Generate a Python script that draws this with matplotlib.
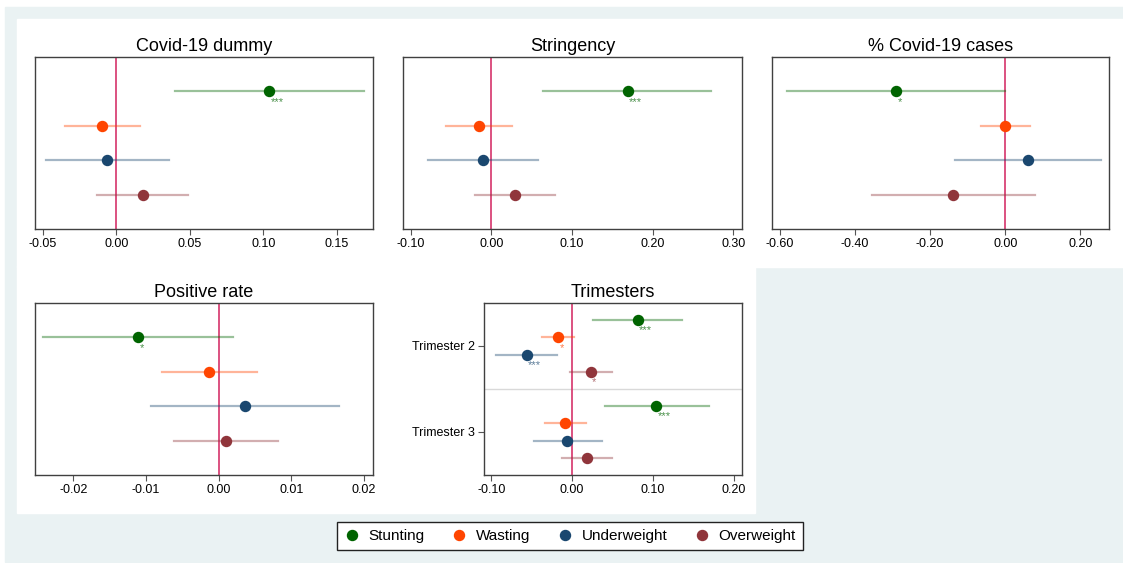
import matplotlib
matplotlib.use("Agg")
import matplotlib.pyplot as plt
from matplotlib.patches import Rectangle
from matplotlib.lines import Line2D
from matplotlib.ticker import FormatStrFormatter

plt.rcParams['font.family'] = ['Liberation Sans', 'DejaVu Sans']
plt.rcParams['axes.unicode_minus'] = False

# datos
series = ['Stunting', 'Wasting', 'Underweight', 'Overweight']
colores = ['#006400', '#ff4500', '#1a476f', '#90353b']

covid_dummy_coef = [0.104, -0.0095, -0.0063, 0.0179]
covid_dummy_lo = [0.0395, -0.0347, -0.048, -0.0131]
covid_dummy_hi = [0.1687, 0.0163, 0.036, 0.0485]
covid_dummy_stars = ['***', '', '', '']

stringency_coef = [0.169, -0.0153, -0.0099, 0.029]
stringency_lo = [0.0646, -0.0567, -0.078, -0.0206]
stringency_hi = [0.273, 0.026, 0.058, 0.0788]
stringency_stars = ['***', '', '', '']

cases_coef = [-0.290, 0.0, 0.061, -0.139]
cases_lo = [-0.581, -0.0657, -0.133, -0.355]
cases_hi = [0.0, 0.0665, 0.255, 0.078]
cases_stars = ['*', '', '', '']

posrate_coef = [-0.0111, -0.00133, 0.00367, 0.0010]
posrate_lo = [-0.02415, -0.0078, -0.00925, -0.0062]
posrate_hi = [0.00197, 0.00522, 0.01663, 0.0082]
posrate_stars = ['*', '', '', '']

trimestres = ['Trimester 2', 'Trimester 3']
tri2_coef = [0.0812, -0.0174, -0.0563, 0.0232]
tri2_lo = [0.026, -0.0373, -0.0939, -0.0029]
tri2_hi = [0.1366, 0.0021, -0.0182, 0.0489]
tri2_stars = ['***', '*', '***', '*']
tri3_coef = [0.104, -0.0087, -0.0058, 0.0183]
tri3_lo = [0.0402, -0.0339, -0.0472, -0.0124]
tri3_hi = [0.169, 0.0166, 0.0365, 0.049]
tri3_stars = ['***', '', '', '']

W, H = 1123, 563
fig = plt.figure(figsize=(W / 100, H / 100), dpi=100)


def caja(x0, y0, x1, y1):
    # pasar pixeles a fracciones de la figura
    return [x0 / W, 1 - y1 / H, (x1 - x0) / W, (y1 - y0) / H]


# fondos estilo stata (detras de los ejes)
fig.patches.append(Rectangle((5 / W, 1 - 562 / H), (W - 5) / W, 555 / H,
                             transform=fig.transFigure, color='#eaf2f3', zorder=-3))
fig.patches.append(Rectangle((17 / W, 1 - 267 / H), (W - 17) / W, 248 / H,
                             transform=fig.transFigure, color='white', zorder=-2))
fig.patches.append(Rectangle((17 / W, 1 - 513 / H), 738 / W, 247 / H,
                             transform=fig.transFigure, color='white', zorder=-2))


def panel(ax, titulo, filas, coef, lo, hi, stars, xlim, ticks):
    for i in range(len(coef)):
        c = colores[i % 4]
        ax.plot([lo[i], hi[i]], [filas[i], filas[i]], color=c, alpha=0.4, lw=1.6, zorder=2)
        ax.plot(coef[i], filas[i], 'o', color=c, ms=7.2, zorder=3)
        if stars[i]:
            # asteriscos de significancia debajo del punto
            ax.annotate(stars[i], (coef[i], filas[i]), xytext=(1, -3.8),
                        textcoords='offset points', ha='left', va='top',
                        fontsize=8, color=c, alpha=0.7, zorder=4)
    ax.axvline(0, color='#d6336b', lw=1.2, zorder=1)
    ax.set_xlim(xlim)
    ax.set_xticks(ticks)
    ax.xaxis.set_major_formatter(FormatStrFormatter('%.2f'))
    ax.tick_params(axis='x', direction='out', length=4, width=0.8, color='#555555',
                   labelsize=9, pad=2.5)
    ax.set_title(titulo, fontsize=13, pad=4)
    for s in ax.spines.values():
        s.set_color('#404040')
        s.set_linewidth(1.0)


filas4 = [1, 2, 3, 4]

ax1 = fig.add_axes(caja(35, 57, 373, 229))
panel(ax1, 'Covid-19 dummy', filas4, covid_dummy_coef, covid_dummy_lo, covid_dummy_hi,
      covid_dummy_stars, (-0.0554, 0.1745), [-0.05, 0.0, 0.05, 0.10, 0.15])

ax2 = fig.add_axes(caja(403, 57, 742, 229))
panel(ax2, 'Stringency', filas4, stringency_coef, stringency_lo, stringency_hi,
      stringency_stars, (-0.1096, 0.311), [-0.1, 0.0, 0.1, 0.2, 0.3])

ax3 = fig.add_axes(caja(772, 57, 1109, 229))
panel(ax3, '% Covid-19 cases', filas4, cases_coef, cases_lo, cases_hi,
      cases_stars, (-0.6205, 0.276), [-0.6, -0.4, -0.2, 0.0, 0.2])

ax4 = fig.add_axes(caja(35, 303, 373, 475))
panel(ax4, 'Positive rate', filas4, posrate_coef, posrate_lo, posrate_hi,
      posrate_stars, (-0.02526, 0.02124), [-0.02, -0.01, 0.0, 0.01, 0.02])

for ax in [ax1, ax2, ax3, ax4]:
    ax.set_ylim(5, 0)
    ax.set_yticks([])

ax5 = fig.add_axes(caja(484, 303, 742, 475))
panel(ax5, 'Trimesters', [1, 2, 3, 4, 6, 7, 8, 9],
      tri2_coef + tri3_coef, tri2_lo + tri3_lo, tri2_hi + tri3_hi,
      tri2_stars + tri3_stars, (-0.1092, 0.2104), [-0.1, 0.0, 0.1, 0.2])
ax5.axhline(5, color='#d9d9d9', lw=1.0, zorder=0)
ax5.set_ylim(10, 0)
ax5.set_yticks([2.5, 7.5])
ax5.set_yticklabels(trimestres)
ax5.tick_params(axis='y', direction='out', length=4, width=0.8, color='#555555',
                labelsize=9, pad=2.5)

# leyenda
manejadores = [Line2D([], [], marker='o', ls='', color=c, ms=7.2) for c in colores]
leg = fig.legend(manejadores, series, loc='center', bbox_to_anchor=(570 / W, 1 - 536 / H),
                 ncol=4, fontsize=11, frameon=True, fancybox=False, edgecolor='#222222',
                 facecolor='white', framealpha=1.0,
                 handletextpad=0.6, columnspacing=1.75, handlelength=1.0,
                 borderpad=0.45, borderaxespad=0)
leg.get_frame().set_linewidth(1.0)

plt.savefig('out.png', dpi=100, facecolor='white')
